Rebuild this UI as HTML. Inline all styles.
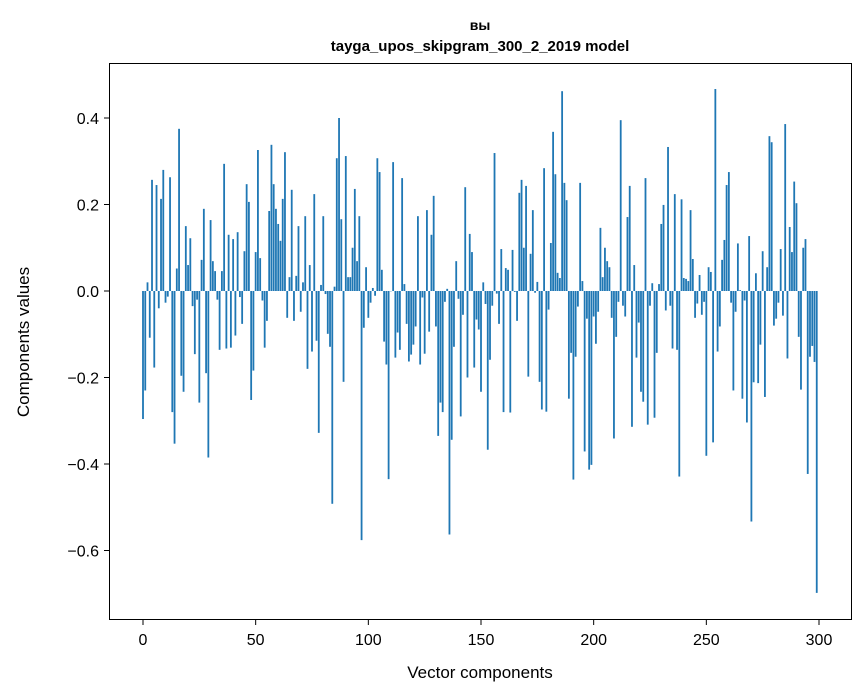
<!DOCTYPE html>
<html><head><meta charset="utf-8"><style>
body{margin:0;background:#fff;}
svg{display:block;font-family:"Liberation Sans","DejaVu Sans",sans-serif;}
</style></head><body>
<svg id="chart" width="867" height="696">
<text x="480" y="30" text-anchor="middle" font-size="14" font-weight="bold">вы</text>
<text x="480" y="51" text-anchor="middle" font-size="15" font-weight="bold">tayga_upos_skipgram_300_2_2019 model</text>
<g id="bars"></g>
<g id="axes"></g>
<rect x="109.5" y="63.5" width="742" height="556" fill="none" stroke="#000" stroke-width="1"/>
<text x="480" y="678" text-anchor="middle" font-size="17">Vector components</text>
<text transform="translate(29,342) rotate(-90)" text-anchor="middle" font-size="17">Components values</text>
</svg>
<script>
const values = [
-0.296,-0.23,0.02,-0.108,0.257,-0.177,0.245,-0.04,0.213,0.28,-0.027,-0.013,0.263,-0.28,-0.353,0.052,0.375,-0.196,-0.233,0.15,0.06,0.122,-0.035,-0.146,-0.02,
-0.258,0.072,0.19,-0.19,-0.385,0.164,0.069,0.046,-0.02,-0.136,0.046,0.294,-0.133,0.13,-0.131,0.12,-0.103,0.136,-0.014,-0.076,0.092,0.247,0.206,-0.252,-0.184,
0.09,0.326,0.076,-0.022,-0.131,-0.069,0.185,0.338,0.247,0.19,0.155,0.116,0.213,0.321,-0.062,0.032,0.234,-0.069,0.035,0.15,-0.048,0.02,0.173,-0.18,0.06,
-0.14,0.224,-0.115,-0.328,0.014,0.173,-0.007,-0.099,-0.129,-0.492,0.01,0.307,0.4,0.166,-0.21,0.312,0.032,0.032,0.1,0.236,0.069,0.173,-0.576,-0.085,0.055,
-0.062,-0.027,0.007,-0.011,0.307,0.275,0.049,-0.117,-0.17,-0.435,0,0.298,-0.154,-0.096,-0.136,0.261,0.016,-0.076,-0.163,-0.147,-0.124,-0.082,0.173,-0.17,-0.015,
-0.145,0.187,-0.094,0.13,0.22,-0.082,-0.335,-0.258,-0.28,-0.025,0.005,-0.563,-0.344,-0.129,0.069,-0.018,-0.29,-0.055,0.24,-0.2,0.132,0.09,-0.177,-0.066,-0.089,
-0.233,0.02,-0.03,-0.367,-0.159,-0.034,0.319,-0.006,-0.076,0.097,-0.28,0.053,0.049,-0.281,0.095,-0.002,-0.069,0.227,0.257,0.1,0.243,-0.198,0.086,0.187,
-0.004,0.021,-0.21,-0.274,0.284,-0.279,-0.043,0.111,0.368,0.27,0.042,0.03,0.462,0.25,0.21,-0.249,-0.143,-0.436,-0.152,-0.036,0.25,0.023,-0.371,-0.064,-0.413,
-0.402,-0.059,-0.122,-0.048,0.146,0.032,0.1,0.069,0.055,-0.062,-0.341,-0.106,-0.025,0.395,-0.034,-0.059,0.171,0.243,-0.314,0.06,-0.154,-0.073,-0.233,-0.256,0.261,
-0.309,-0.034,0.018,-0.293,-0.143,0.016,0.155,0.199,-0.045,0.333,-0.034,-0.133,0.224,-0.136,-0.429,0.212,0.03,0.028,0.023,0.187,0.074,-0.062,-0.029,0.037,-0.055,-0.025,
-0.381,0.055,0.044,-0.35,0.467,-0.14,-0.082,0.072,0.118,0.245,0.275,-0.027,-0.23,-0.048,0.11,0.002,-0.249,-0.022,-0.304,0.127,-0.533,-0.211,0.041,-0.213,-0.124,0.092,
-0.245,0.055,0.358,0.344,-0.08,-0.064,-0.027,0.097,-0.057,0.386,-0.156,0.148,0.09,0.253,0.203,-0.106,-0.228,0.1,0.12,-0.423,-0.152,-0.127,-0.164,-0.698
];
const xTicks = [0,50,100,150,200,250,300];
const yTicks = [-0.6,-0.4,-0.2,0.0,0.2,0.4];
const yTickLabels = ["\u22120.6","\u22120.4","\u22120.2","0.0","0.2","0.4"];

const NS="http://www.w3.org/2000/svg";
function xs(i){return 143 + i*(819-143)/300;}
function ys(v){return 291 - v*432.5;}
const bars=document.getElementById('bars');
values.forEach((v,i)=>{
  const r=document.createElementNS(NS,'rect');
  const y0=ys(0), y1=ys(v);
  r.setAttribute('x', xs(i-0.4));
  r.setAttribute('width', xs(0.8)-xs(0));
  r.setAttribute('y', Math.min(y0,y1));
  r.setAttribute('height', Math.max(Math.abs(y1-y0),0.3));
  r.setAttribute('fill','#1f77b4');
  
  
  bars.appendChild(r);
});
const axes=document.getElementById('axes');
xTicks.forEach(t=>{
  const l=document.createElementNS(NS,'line');
  l.setAttribute('x1',xs(t));l.setAttribute('x2',xs(t));
  l.setAttribute('y1',620);l.setAttribute('y2',625);
  l.setAttribute('stroke','#000');
  
  
  axes.appendChild(l);
  const tx=document.createElementNS(NS,'text');
  tx.setAttribute('x',xs(t));tx.setAttribute('y',645);
  tx.setAttribute('text-anchor','middle');tx.setAttribute('font-size','16');
  tx.textContent=t;
  
  
  axes.appendChild(tx);
});
yTicks.forEach((t,k)=>{
  const l=document.createElementNS(NS,'line');
  l.setAttribute('x1',104);l.setAttribute('x2',109);
  l.setAttribute('y1',ys(t));l.setAttribute('y2',ys(t));
  l.setAttribute('stroke','#000');
  
  
  axes.appendChild(l);
  const tx=document.createElementNS(NS,'text');
  tx.setAttribute('x',99);tx.setAttribute('y',ys(t)+6);
  tx.setAttribute('text-anchor','end');tx.setAttribute('font-size','16');
  tx.textContent=yTickLabels[k];
  
  
  axes.appendChild(tx);
});
</script>
</body></html>
